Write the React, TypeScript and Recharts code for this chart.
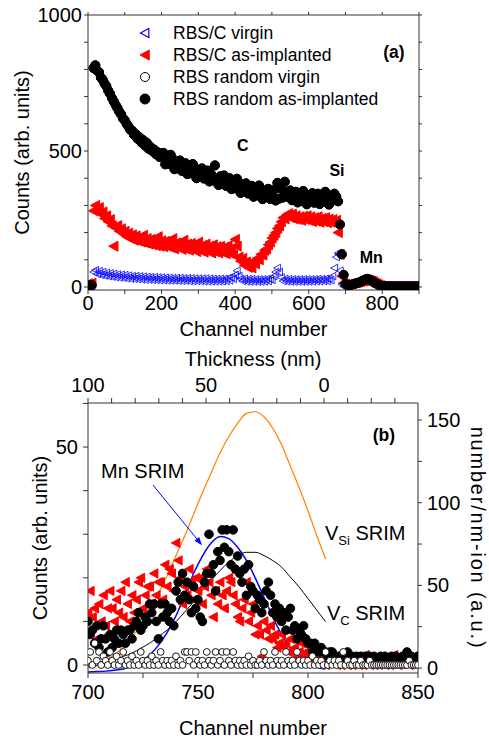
import React from "react";
import {
  ComposedChart,
  Scatter,
  Line,
  XAxis,
  YAxis,
  Legend,
  ReferenceDot,
  ReferenceLine,
} from "recharts";

const FONT = "'Liberation Sans', Arial, Helvetica, sans-serif";
const AXIS = "#333";

// ---------- panel (a): full RBS spectra, one reading every 5 channels from channel 0
const SPEC_STEP = 5;

const randomImplanted = [
  6, 4, 8, 805, 815, 795, 790, 770, 762, 748,
  738, 722, 710, 695, 682, 670, 658, 645, 635, 620,
  612, 600, 590, 578, 575, 560, 562, 545, 550, 532,
  540, 520, 530, 508, 515, 500, 505, 488, 495, 478,
  485, 493, 451, 476, 453, 486, 450, 433, 464, 443,
  465, 427, 443, 455, 415, 440, 418, 452, 417, 400,
  432, 413, 436, 399, 415, 428, 388, 414, 392, 447,
  392, 375, 407, 387, 410, 372, 388, 400, 360, 385,
  363, 398, 362, 346, 378, 358, 381, 344, 360, 372,
  332, 359, 337, 373, 338, 323, 355, 337, 361, 324,
  341, 356, 318, 383, 325, 362, 329, 387, 348, 331,
  355, 319, 336, 350, 311, 338, 317, 353, 319, 304,
  337, 320, 345, 310, 328, 343, 305, 333, 313, 350,
  317, 303, 336, 319, 343, 332, 315, 230, 120, 45,
  12, 8, 6, 8, 10, 12, 14, 16, 18, 22,
  25, 28, 30, 28, 24, 20, 15, 12, 8, 6,
  4, 3, 3, 2, 2, 2, 2, 2, 2, 2,
  2, 2, 2, 2, 2, 2, 2, 2, 2, 2,
  2,
];

const channelingImplanted = [
  12, 10, 14, 280, 300, 282, 292, 268, 276, 252,
  262, 240, 248, 225, 150, 218, 226, 205, 214, 196,
  205, 185, 198, 178, 192, 172, 188, 170, 182, 165,
  190, 162, 178, 158, 175, 155, 172, 152, 185, 150,
  170, 148, 168, 150, 165, 145, 178, 140, 162, 145,
  160, 138, 172, 140, 158, 135, 160, 142, 155, 130,
  165, 135, 152, 128, 158, 132, 150, 125, 155, 130,
  148, 125, 150, 128, 145, 122, 152, 125, 142, 118,
  175, 150, 110, 95, 105, 80, 92, 72, 88, 70,
  95, 85, 105, 100, 120, 118, 135, 140, 155, 165,
  180, 190, 200, 215, 225, 240, 255, 250, 265, 270,
  255, 268, 250, 262, 248, 258, 245, 260, 248, 262,
  245, 258, 240, 255, 242, 258, 238, 252, 240, 255,
  236, 250, 238, 248, 235, 245, 200, 120, 40, 15,
  10, 8, 10, 12, 14, 15, 16, 18, 20, 22,
  22, 24, 25, 24, 22, 20, 15, 12, 8, 5,
  3, 3, 2, 2, 1, 2, 1, 2, 1, 2,
  1, 2, 1, 2, 1, 2, 1, 2, 1, 2,
  1,
];

// channels 0..700
const channelingVirgin = [
  3, 2, 4, 55, 62, 48, 58, 45, 55, 42,
  52, 40, 50, 38, 48, 36, 46, 35, 45, 34,
  44, 32, 42, 31, 40, 30, 40, 29, 39, 28,
  38, 27, 37, 27, 36, 26, 36, 26, 35, 25,
  35, 25, 34, 24, 34, 24, 33, 24, 33, 23,
  33, 23, 32, 23, 32, 22, 32, 22, 31, 22,
  31, 22, 31, 21, 31, 21, 30, 21, 30, 21,
  30, 21, 30, 21, 30, 22, 32, 24, 36, 30,
  45, 60, 40, 30, 22, 30, 21, 29, 20, 29,
  20, 28, 20, 28, 20, 28, 21, 29, 22, 30,
  26, 40, 55, 70, 55, 35, 22, 30, 21, 29,
  20, 28, 20, 28, 20, 28, 20, 28, 20, 28,
  20, 28, 20, 28, 21, 29, 21, 29, 22, 30,
  22, 31, 25, 40, 70, 110, 125, 60, 10, 2,
  1,
];

// the virgin random spectrum lies right under the as-implanted one in (a)
const randomVirgin = randomImplanted;

// ---------- panel (b): Mn region, one reading per channel from 700 to 850
const ZOOM_START = 700;

const zoomRandomImplanted = [
  10, 7, 8, 5, 9, 4, 6, 9, 6, 3,
  7, 4, 6, 8, 5, 8, 7, 5, 8, 8,
  6, 9, 10, 12, 8, 9, 11, 10, 14, 12,
  14, 10, 6, 14, 11, 14, 12, 10, 13, 9,
  17, 19, 15, 21, 16, 19, 15, 12, 18, 13,
  15, 11, 10, 19, 21, 30, 21, 23, 17, 26,
  24, 31, 27, 31, 26, 23, 31, 22, 25, 21,
  19, 22, 16, 23, 18, 17, 13, 16, 15, 12,
  14, 17, 19, 16, 12, 14, 11, 13, 10, 12,
  8, 11, 13, 8, 9, 6, 8, 7, 9, 6,
  5, 5, 3, 5, 4, 3, 4, 3, 3, 2,
  3, 3, 2, 1, 2, 2, 1, 2, 3, 1,
  2, 1, 2, 1, 2, 1, 2, 1, 2, 1,
  2, 1, 1, 2, 1, 2, 1, 1, 2, 1,
  2, 1, 1, 2, 1, 3, 1, 2, 1, 1,
  2,
];

const zoomChannelingImplanted = [
  12, 17, 11, 13, 6, 14, 10, 16, 9, 13,
  17, 13, 10, 15, 12, 17, 11, 19, 14, 10,
  16, 12, 15, 19, 20, 13, 16, 18, 18, 14,
  21, 16, 19, 19, 15, 23, 18, 22, 21, 17,
  28, 24, 20, 14, 18, 16, 22, 19, 15, 20,
  17, 20, 14, 18, 22, 19, 16, 11, 17, 14,
  19, 16, 13, 17, 20, 19, 16, 14, 11, 10,
  13, 15, 19, 10, 12, 14, 7, 9, 7, 2,
  10, 8, 6, 9, 6, 7, 4, 5, 7, 4,
  5, 3, 6, 3, 4, 2, 3, 5, 2, 3,
  2, 1, 3, 1, 2, 0.5, 2, 1, 0, 1,
  2, 0.5, 1, 0, 1.5, 0, 1, 0.5, 0, 1,
  0, 0.5, 1, 0, 1, 0, 2.3, 0.5, 0, 1,
  0, 1, 0, 0.5, 1, 0, 1, 0, 1, 2.3,
  1, 0, 1, 0.5, 2, 1, 0, 1, 2, 0.5,
  1,
];

const zoomRandomVirgin = [
  1, 3, 0, 5, 1, 3, 0, 2, 1, 0,
  3, 1, 0, 2, 0, 1, 3, 0, 1, 0,
  2, 0, 1, 0, 3, 1, 0, 1, 0, 2,
  0, 1, 0, 3, 1, 0, 1, 0, 1, 0,
  2, 0, 1, 0, 3, 3, 1, 3, 0, 3,
  1, 0, 1, 0, 3, 1, 0, 1, 3, 0,
  1, 3, 0, 3, 1, 0, 3, 1, 0, 1,
  0, 1, 0, 2, 0, 1, 0, 0, 1, 0,
  3, 1, 0, 1, 0, 3, 1, 0, 1, 0,
  3, 1, 0, 1, 0, 3, 1, 0, 1, 0,
  1, 0, 2, 0, 1, 0, 1, 0, 3, 0,
  1, 0, 1, 0, 1, 0, 3, 0, 1, 0,
  0, 1, 0, 0, 1, 0, 0, 0, 1, 0,
  0, 0, 0, 0, 0, 0, 0, 0, 0, 0,
  0, 0, 0, 0, 0, 0, 1, 0, 0, 0,
  0,
];

// SRIM profiles
const srimChannels = [
  700, 704, 708, 712, 716, 720, 724, 728, 732, 736, 740, 744, 748, 752,
  756, 760, 764, 768, 772, 776, 780, 784, 788, 792, 796, 800, 804, 808,
];
// Mn SRIM, in counts (left axis)
const mnSrim = [
  -1.6, -1.5, -1.4, -1.2, -0.9, -0.3, 0.8, 2.3, 4.5, 7.5, 11.3, 16, 21, 25,
  28, 29.5, 29, 27, 24, 20, 15.5, 11, 7, 4, 2, 0.3, -0.5, -0.9,
];
// vacancies, number/nm-ion (right axis)
const vSiSrim = [
  1.5, 3, 5, 8, 13, 19, 26, 35, 45, 56, 68, 80, 93, 106,
  118, 130, 140, 148, 154, 155, 152, 145, 135, 122, 109, 95, 80, 66,
];
const vCSrim = [
  0.5, 1.5, 3, 5, 7, 9, 12, 15, 19, 23, 28, 34, 40, 47,
  53, 59, 64, 68, 70, 70, 68, 65, 61, 55, 49, 42, 35, 28,
];

// axis ticks
const xTicksA = [0, 100, 200, 300, 400, 500, 600, 700, 800, 900];
const yTicksA = [0, 100, 200, 300, 400, 500, 600, 700, 800, 900, 1000];
const xTicksB = [700, 725, 750, 775, 800, 825, 850];
const yTicksB = [0, 10, 20, 30, 40, 50, 60];
const rTicksB = [0, 25, 50, 75, 100, 125, 150];
const thickTicks = [-30, -20, -10, 0, 10, 20, 30, 40, 50, 60, 70, 80, 90, 100];

const spaced = (vals: number[], start: number, step: number) =>
  vals.map((v, i) => ({ ch: start + i * step, v }));

const ptsRandomImpl = spaced(randomImplanted, 0, SPEC_STEP);
const ptsChanImpl = spaced(channelingImplanted, 0, SPEC_STEP);
const ptsChanVirgin = spaced(channelingVirgin, 0, SPEC_STEP);
const ptsRandomVirgin = spaced(randomVirgin, 0, SPEC_STEP);

const zRandomImpl = spaced(zoomRandomImplanted, ZOOM_START, 1);
const zChanImpl = spaced(zoomChannelingImplanted, ZOOM_START, 1);
const zRandomVirgin = spaced(zoomRandomVirgin, ZOOM_START, 1);

const lineMn = srimChannels.map((ch, i) => ({ ch, v: mnSrim[i] }));
const lineVSi = srimChannels.map((ch, i) => ({ ch, v: vSiSrim[i] }));
const lineVC = srimChannels.map((ch, i) => ({ ch, v: vCSrim[i] }));

// invisible anchors so that the frame axes (no series of their own) get drawn
const frameAnchorsA = xTicksA.map((ch) => ({ ch, v: 0 }));
const frameAnchorsB = thickTicks.map((ch) => ({ ch, v: 0 }));

// marker shapes
const circle = (r: number, fill: string, stroke: string, sw = 1) => (p: any) =>
  <circle cx={p.cx} cy={p.cy} r={r} fill={fill} stroke={stroke} strokeWidth={sw} />;
const leftTri = (s: number, fill: string, stroke: string, sw = 1) => (p: any) =>
  <polygon
    points={`${p.cx - s},${p.cy} ${p.cx + s * 0.85},${p.cy - s} ${p.cx + s * 0.85},${p.cy + s}`}
    fill={fill}
    stroke={stroke}
    strokeWidth={sw}
  />;
const nothing = () => <g />;
const blank = () => "";

const legendRows = [
  { label: "RBS/C virgin", mark: leftTri(4.5, "none", "#0000ff", 1.2) },
  { label: "RBS/C as-implanted", mark: leftTri(5, "#ff0000", "#ff0000") },
  { label: "RBS random virgin", mark: circle(4.5, "#fff", "#000") },
  { label: "RBS random as-implanted", mark: circle(5, "#000", "#000") },
];

function LegendBox() {
  return (
    <div style={{ fontFamily: FONT, fontSize: 17.5, color: "#000" }}>
      {legendRows.map((r) => (
        <div key={r.label} style={{ display: "flex", alignItems: "center", height: 22 }}>
          <svg width={38} height={22}>{r.mark({ cx: 10, cy: 11 })}</svg>
          <span style={{ whiteSpace: "nowrap" }}>{r.label}</span>
        </div>
      ))}
    </div>
  );
}

const tickStyle = { fill: "#000", fontSize: 20, fontFamily: FONT };

const note = (text: string, size: number, bold = false, anchor = "middle") => (p: any) =>
  <text
    x={p.cx}
    y={p.cy}
    textAnchor={anchor}
    dominantBaseline={anchor === "middle" ? "central" : "auto"}
    fontFamily={FONT}
    fontSize={size}
    fontWeight={bold ? "bold" : "normal"}
    fill="#000"
  >
    {text}
  </text>;

const subNote = (main: string, sub: string) => (p: any) =>
  <text x={p.cx} y={p.cy} fontFamily={FONT} fontSize={20} fill="#000">
    <tspan>{main}</tspan>
    <tspan fontSize={13} dy={5}>{sub}</tspan>
    <tspan dy={-5}> SRIM</tspan>
  </text>;

const xTitle = (text: string, dy: number) => (props: any) => {
  const { x, y, width } = props.viewBox;
  return (
    <text x={x + width / 2} y={y + dy} textAnchor="middle" dominantBaseline="central"
      fontFamily={FONT} fontSize={20} fill="#000">{text}</text>
  );
};

const yTitle = (text: string, dx: number, angle: number, spacing = 0) => (props: any) => {
  const { x, y, height } = props.viewBox;
  const cx = x + dx;
  const cy = y + height / 2;
  return (
    <text x={cx} y={cy} transform={`rotate(${angle} ${cx} ${cy})`} textAnchor="middle"
      dominantBaseline="central" fontFamily={FONT} fontSize={20} letterSpacing={spacing}
      fill="#000">{text}</text>
  );
};

const arrow = (p: any) => {
  const { x1, y1, x2, y2 } = p;
  const a = Math.atan2(y2 - y1, x2 - x1);
  const L = 8;
  const W = 3;
  const bx = x2 - L * Math.cos(a);
  const by = y2 - L * Math.sin(a);
  const px = -Math.sin(a) * W;
  const py = Math.cos(a) * W;
  return (
    <g>
      <line x1={x1} y1={y1} x2={bx} y2={by} stroke="#0000ff" strokeWidth={1} />
      <polygon points={`${x2},${y2} ${bx + px},${by + py} ${bx - px},${by - py}`} fill="#0000ff" />
    </g>
  );
};

function PanelA() {
  return (
    <ComposedChart width={489} height={345} margin={{ top: 12, right: 56, bottom: 10, left: 0 }}>
      <XAxis
        xAxisId="x" dataKey="ch" type="number" domain={[0, 900]} allowDataOverflow
        ticks={xTicksA} interval={0} height={45}
        tickFormatter={(v: number) => (v % 200 === 0 ? String(v) : "")}
        tick={tickStyle} tickSize={4} tickMargin={2}
        axisLine={{ stroke: AXIS }} tickLine={{ stroke: AXIS }}
        label={{ content: xTitle("Channel number", 38.5) }}
      />
      <XAxis
        xAxisId="top" dataKey="ch" orientation="top" type="number" domain={[0, 900]} allowDataOverflow
        ticks={xTicksA} interval={0} height={3} tickFormatter={blank}
        tick={tickStyle} tickSize={3} tickMargin={0}
        axisLine={{ stroke: AXIS }} tickLine={{ stroke: AXIS }}
      />
      <YAxis
        yAxisId="y" dataKey="v" type="number" domain={[-11, 1000]} allowDataOverflow
        ticks={yTicksA} interval={0} width={88}
        tickFormatter={(v: number) => (v % 500 === 0 ? String(v) : "")}
        tick={tickStyle} tickSize={4} tickMargin={2}
        axisLine={{ stroke: AXIS }} tickLine={{ stroke: AXIS }}
        label={{ content: yTitle("Counts (arb. units)", 22, -90) }}
      />
      <YAxis
        yAxisId="right" dataKey="v" orientation="right" type="number" domain={[-11, 1000]} allowDataOverflow
        ticks={yTicksA} interval={0} width={14} tickFormatter={blank}
        tick={tickStyle} tickSize={3} tickMargin={0}
        axisLine={{ stroke: AXIS }} tickLine={{ stroke: AXIS }}
      />
      <Legend
        layout="vertical" align="center" verticalAlign="middle"
        content={<LegendBox />}
        wrapperStyle={{ top: 22, left: 135, width: 280 }}
      />
      <Scatter xAxisId="top" yAxisId="right" data={frameAnchorsA} dataKey="v"
        shape={nothing} legendType="none" isAnimationActive={false} />
      <Scatter xAxisId="x" yAxisId="y" data={ptsRandomVirgin} dataKey="v"
        shape={circle(4.5, "#fff", "#000")} isAnimationActive={false} />
      <Scatter xAxisId="x" yAxisId="y" data={ptsChanImpl} dataKey="v"
        shape={leftTri(5, "#ff0000", "#ff0000")} isAnimationActive={false} />
      <Scatter xAxisId="x" yAxisId="y" data={ptsChanVirgin} dataKey="v"
        shape={leftTri(3.8, "none", "#0000ff", 0.8)} isAnimationActive={false} />
      <Scatter xAxisId="x" yAxisId="y" data={ptsRandomImpl} dataKey="v"
        shape={circle(4.5, "#000", "#000")} isAnimationActive={false} />
      <ReferenceDot xAxisId="x" yAxisId="y" x={832} y={864} shape={note("(a)", 17.5, true)} />
      <ReferenceDot xAxisId="x" yAxisId="y" x={421} y={522} shape={note("C", 16, true)} />
      <ReferenceDot xAxisId="x" yAxisId="y" x={677} y={430} shape={note("Si", 16, true)} />
      <ReferenceDot xAxisId="x" yAxisId="y" x={770} y={110} shape={note("Mn", 16, true)} />
    </ComposedChart>
  );
}

function PanelB() {
  return (
    <ComposedChart width={489} height={396} margin={{ top: 3, right: 0, bottom: 6, left: 0 }}>
      <XAxis
        xAxisId="x" dataKey="ch" type="number" domain={[700, 850]} allowDataOverflow
        ticks={xTicksB} interval={0} height={62}
        tickFormatter={(v: number) => (v % 50 === 0 ? String(v) : "")}
        tick={tickStyle} tickSize={5} tickMargin={7}
        axisLine={{ stroke: AXIS }} tickLine={{ stroke: AXIS }}
        label={{ content: xTitle("Channel number", 54.5) }}
      />
      <XAxis
        xAxisId="top" dataKey="ch" orientation="top" type="number" domain={[-39.8, 100]} reversed allowDataOverflow
        ticks={thickTicks} interval={0} height={55}
        tickFormatter={(v: number) => (v >= 0 && v % 50 === 0 ? String(v) : "")}
        tick={tickStyle} tickSize={5} tickMargin={6}
        axisLine={{ stroke: AXIS }} tickLine={{ stroke: AXIS }}
        label={{ content: xTitle("Thickness (nm)", 11) }}
      />
      <YAxis
        yAxisId="y" dataKey="v" type="number" domain={[-1.83, 60.1]} allowDataOverflow
        ticks={yTicksB} interval={0} width={88}
        tickFormatter={(v: number) => (v % 50 === 0 ? String(v) : "")}
        tick={tickStyle} tickSize={5} tickMargin={5}
        axisLine={{ stroke: AXIS }} tickLine={{ stroke: AXIS }}
        label={{ content: yTitle("Counts (arb. units)", 40, -90) }}
      />
      <YAxis
        yAxisId="right" orientation="right" type="number" domain={[-3, 160.3]} allowDataOverflow
        ticks={rTicksB} interval={0} width={71}
        tickFormatter={(v: number) => (v % 50 === 0 ? String(v) : "")}
        tick={tickStyle} tickSize={4} tickMargin={5}
        axisLine={{ stroke: AXIS }} tickLine={{ stroke: AXIS }}
        label={{ content: yTitle("number/nm-ion (a.u.)", 60, 90, 1.8) }}
      />
      <Scatter xAxisId="top" yAxisId="y" data={frameAnchorsB} dataKey="v"
        shape={nothing} legendType="none" isAnimationActive={false} />
      <Scatter xAxisId="x" yAxisId="y" data={zChanImpl} dataKey="v"
        shape={leftTri(4.6, "#ff0000", "#ff0000")} isAnimationActive={false} />
      <Scatter xAxisId="x" yAxisId="y" data={zRandomImpl} dataKey="v"
        shape={circle(4.3, "#000", "#000")} isAnimationActive={false} />
      <Scatter xAxisId="x" yAxisId="y" data={zRandomVirgin} dataKey="v"
        shape={circle(3.4, "#fff", "#000", 0.9)} isAnimationActive={false} />
      <Line xAxisId="x" yAxisId="right" data={lineVSi} dataKey="v" type="monotone"
        stroke="#ff8000" strokeWidth={1.2} dot={false} isAnimationActive={false} />
      <Line xAxisId="x" yAxisId="right" data={lineVC} dataKey="v" type="monotone"
        stroke="#000" strokeWidth={1} dot={false} isAnimationActive={false} />
      <Line xAxisId="x" yAxisId="y" data={lineMn} dataKey="v" type="monotone"
        stroke="#0000ff" strokeWidth={1.5} dot={false} isAnimationActive={false} />
      <ReferenceLine xAxisId="x" yAxisId="y"
        segment={[{ x: 729.5, y: 41.3 }, { x: 751.8, y: 27.5 }]} shape={arrow} />
      <ReferenceDot xAxisId="x" yAxisId="y" x={834.5} y={52.75} shape={note("(b)", 17.5, true)} />
      <ReferenceDot xAxisId="x" yAxisId="y" x={705.9} y={42.9} shape={note("Mn SRIM", 20, false, "start")} />
      <ReferenceDot xAxisId="x" yAxisId="y" x={807.7} y={28.7} shape={subNote("V", "Si")} />
      <ReferenceDot xAxisId="x" yAxisId="y" x={808.6} y={10.3} shape={subNote("V", "C")} />
    </ComposedChart>
  );
}

export default function App() {
  return (
    <div style={{ position: "absolute", left: 0, top: 0, width: 489, height: 741, background: "#fff" }}>
      <div style={{ position: "absolute", left: 0, top: 0 }}>
        <PanelA />
      </div>
      <div style={{ position: "absolute", left: 0, top: 345 }}>
        <PanelB />
      </div>
    </div>
  );
}
